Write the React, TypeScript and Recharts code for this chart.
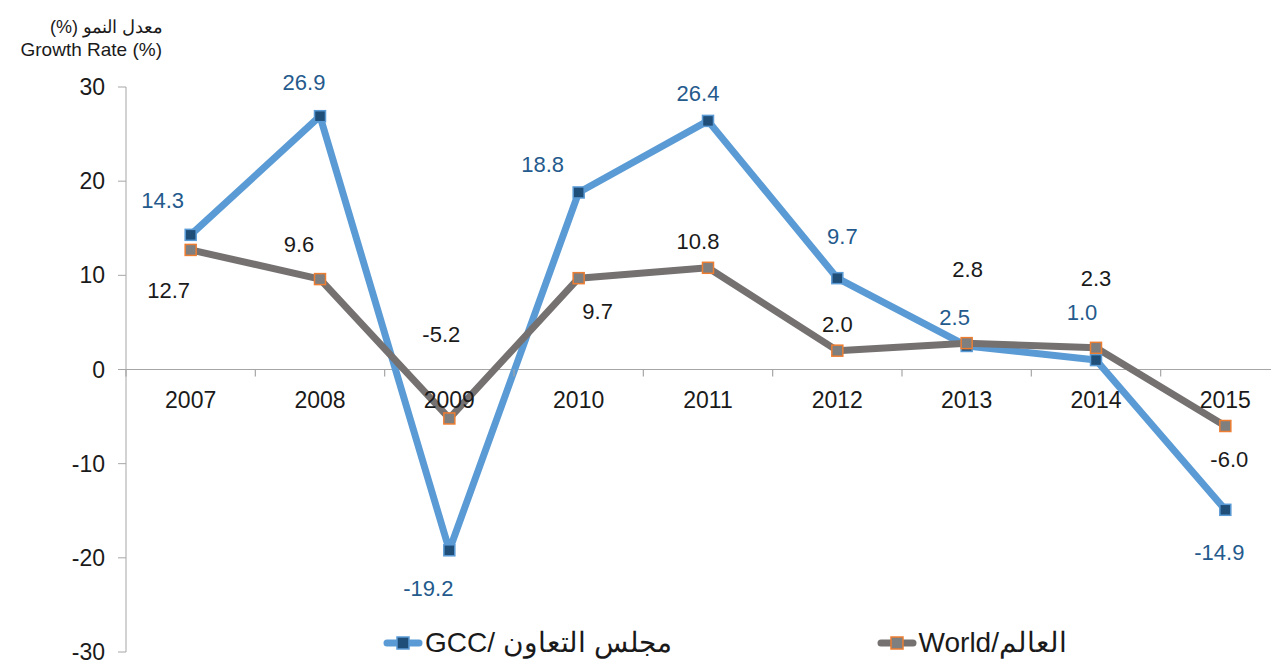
import { LabelList, Legend, Line, LineChart, ReferenceDot, ReferenceLine, XAxis, YAxis } from "recharts"

const years = ["2007", "2008", "2009", "2010", "2011", "2012", "2013", "2014", "2015"]
const gcc = [14.3, 26.9, -19.2, 18.8, 26.4, 9.7, 2.5, 1.0, -14.9]
const world = [12.7, 9.6, -5.2, 9.7, 10.8, 2.0, 2.8, 2.3, -6.0]
const yTicks = [-30, -20, -10, 0, 10, 20, 30]

const data = years.map((year, i) => ({ x: i + 0.5, year, gcc: gcc[i], world: world[i] }))
const boundaries = Array.from({ length: years.length + 1 }, (_, i) => i)

// hand placed label offsets, like the excel original
const gccOffsets = [[-28, -34], [-16, -34], [-21, 38], [-36, -28], [-10, -27], [5, -42], [-12, -28], [-14, -48], [-6, 43]]
const worldOffsets = [[-22, 41], [-21, -35], [-8, -84], [19, 33], [-10, -26], [0, -26], [1, -74], [0, -69], [4, 33]]

const AXIS = "#A6A6A6"
const FONT = "'Liberation Sans', Arial, sans-serif"

const styles = {
  gcc: { line: "#5B9BD5", fill: "#1F4E79", stroke: "#5B9BD5", text: "#245A8C" },
  world: { line: "#767171", fill: "#7F7F7F", stroke: "#ED7D31", text: "#1A1A1A" },
}

const squareDot = (fill: string, stroke: string) => (p: any) => (
  <rect key={`d-${p.index}`} x={p.cx - 5.5} y={p.cy - 5.5} width={11} height={11} fill={fill} stroke={stroke} strokeWidth={1.5} />
)

const valueLabel = (offsets: number[][], color: string) => (p: any) => {
  const [dx, dy] = offsets[p.index] || [0, -25]
  return (
    <text key={`l-${p.index}`} x={p.x + dx} y={p.y + dy} textAnchor="middle" dominantBaseline="central" fontSize={22} fill={color}>
      {Number(p.value).toFixed(1)}
    </text>
  )
}

const renderLegend = (props: any) => (
  <div style={{ display: "flex", alignItems: "center", fontFamily: FONT, fontSize: 28, color: "#1A1A1A" }}>
    {props.payload.map((item: any, i: number) => {
      const s = styles[item.dataKey as "gcc" | "world"]
      return (
        <div key={item.value} style={{ display: "flex", alignItems: "center", marginRight: i === 0 ? 205 : 0 }}>
          <svg width={40} height={20}>
            <line x1={4} y1={10} x2={36} y2={10} stroke={s.line} strokeWidth={7} strokeLinecap="round" />
            <rect x={14} y={4} width={12} height={12} fill={s.fill} stroke={s.stroke} strokeWidth={1.5} />
          </svg>
          <span style={{ marginLeft: 2 }}>{item.value}</span>
        </div>
      )
    })}
  </div>
)

export default function App() {
  return (
    <div style={{ position: "absolute", left: 0, top: 0, width: 1271, height: 661, overflow: "hidden", fontFamily: FONT, background: "#fff" }}>
      <div style={{ position: "absolute", left: 0, top: 16, width: 163, textAlign: "right", fontSize: 18, color: "#1A1A1A", direction: "rtl" }}>
        معدل النمو (%)
      </div>
      <div style={{ position: "absolute", left: 0, top: 39, width: 162, textAlign: "right", fontSize: 19, color: "#1A1A1A" }}>
        Growth Rate (%)
      </div>
      <LineChart width={1300} height={661} data={data} margin={{ top: 87, right: 10, bottom: 9, left: 0 }}>
        <XAxis type="number" dataKey="x" domain={[0, years.length]} hide />
        <YAxis
          domain={[-30, 30]}
          ticks={yTicks}
          width={126}
          stroke={AXIS}
          tickSize={8}
          tickMargin={13}
          tick={{ fill: "#1A1A1A", fontSize: 23 }}
          interval={0}
        />
        <ReferenceLine y={0} stroke={AXIS} strokeWidth={1.2} />
        {boundaries.map((b) => (
          <ReferenceDot
            key={`t-${b}`}
            x={b}
            y={0}
            r={0}
            shape={(p: any) => <line x1={p.cx} y1={p.cy} x2={p.cx} y2={p.cy + 7} stroke={AXIS} strokeWidth={1.2} />}
          />
        ))}
        {data.map((d) => (
          <ReferenceDot
            key={`y-${d.year}`}
            x={d.x}
            y={0}
            r={0}
            shape={(p: any) => (
              <text x={p.cx} y={p.cy + 38} textAnchor="middle" fontSize={23} fill="#1A1A1A">
                {d.year}
              </text>
            )}
          />
        ))}
        <Legend
          layout="horizontal"
          verticalAlign="middle"
          align="center"
          content={renderLegend}
          wrapperStyle={{ top: 626, left: 383, width: "auto" }}
        />
        <Line
          dataKey="gcc"
          name="GCC/ مجلس التعاون"
          stroke={styles.gcc.line}
          strokeWidth={7}
          strokeLinejoin="round"
          dot={squareDot(styles.gcc.fill, styles.gcc.stroke)}
          isAnimationActive={false}
        >
          <LabelList dataKey="gcc" content={valueLabel(gccOffsets, styles.gcc.text)} />
        </Line>
        <Line
          dataKey="world"
          name="World/العالم"
          stroke={styles.world.line}
          strokeWidth={7}
          strokeLinejoin="round"
          dot={squareDot(styles.world.fill, styles.world.stroke)}
          isAnimationActive={false}
        >
          <LabelList dataKey="world" content={valueLabel(worldOffsets, styles.world.text)} />
        </Line>
      </LineChart>
    </div>
  )
}
